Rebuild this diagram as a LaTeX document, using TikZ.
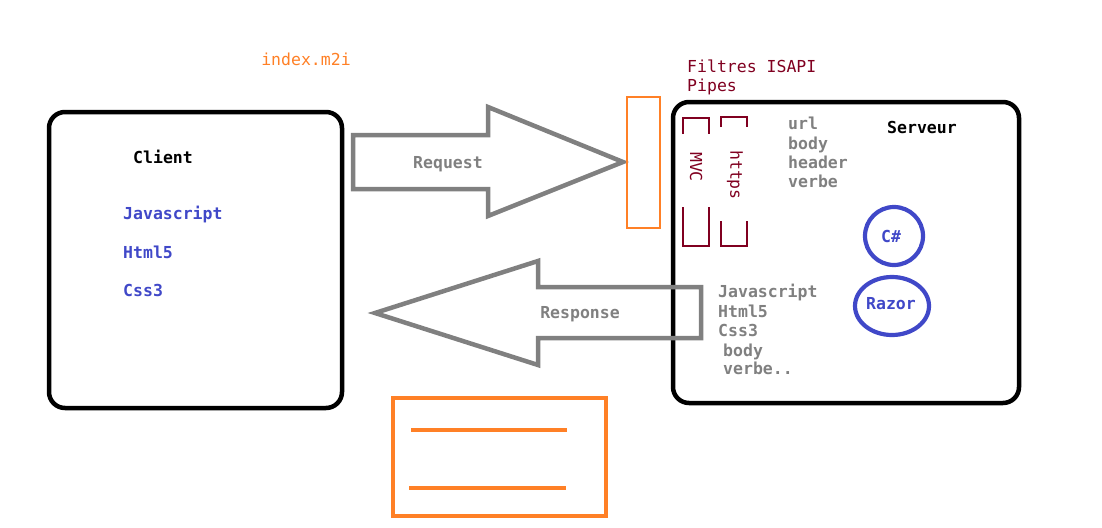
\documentclass[tikz,border=0pt]{standalone}
\usepackage{fontspec}
\setmainfont{DejaVu Sans Mono}
\definecolor{cgray}{HTML}{808080}
\definecolor{cblue}{HTML}{4048C8}
\definecolor{corange}{HTML}{FF8026}
\definecolor{cred}{HTML}{800020}
\begin{document}
\begin{tikzpicture}[x=1pt,y=-1pt,
  txt/.style={inner sep=0pt, font=\fontsize{16.5}{19}\selectfont},
  btxt/.style={txt, font=\fontsize{16.5}{19}\selectfont\bfseries},
  bigbox/.style={draw=black, line width=4.5pt, rounded corners=16pt, inner sep=0pt},
  arrowshape/.style={draw=cgray, line width=4.5pt, line join=miter},
  orangebox/.style={draw=corange, line width=3.2pt},
  thinorange/.style={draw=corange, line width=2.4pt},
  orangeline/.style={draw=corange, line width=3.2pt},
  filterline/.style={draw=cred, line width=1.6pt},
  bluering/.style={draw=cblue, line width=4.2pt, inner sep=0pt}]
\useasboundingbox (0,0) rectangle (1102,527);

% boxes
\node[bigbox, minimum width=293pt, minimum height=296pt] (client) at (195.5,260) {};
\node[bigbox, minimum width=346pt, minimum height=301pt] (server) at (846,252.5) {};

% request arrow
\draw[arrowshape] (353,135) -- (488,135) -- (488,107) -- (623,162) -- (488,216) -- (488,189) -- (353,189) -- cycle;
\node[btxt, text=cgray, anchor=base] (req) at (448,168) {Request};

% response arrow
\draw[arrowshape] (701,287) -- (538,287) -- (538,261) -- (375,313) -- (538,365) -- (538,338) -- (701,338) -- cycle;
\node[btxt, text=cgray, anchor=base] (resp) at (580,318) {Response};

% orange filter box
\node[thinorange, minimum width=33pt, minimum height=131pt, inner sep=0pt] (filter) at (643.5,162.5) {};

% bottom orange box
\node[orangebox, minimum width=213pt, minimum height=118pt, inner sep=0pt] (bottom) at (499.5,457) {};
\coordinate (l1a) at (411,430); \coordinate (l1b) at (567,430);
\coordinate (l2a) at (409,488); \coordinate (l2b) at (566,488);
\draw[orangeline] (l1a) -- (l1b);
\draw[orangeline] (l2a) -- (l2b);

% top labels
\node[txt, text=corange, anchor=base] (index) at (306,66) {index.m2i};
\node[txt, text=cred, anchor=base west] (filtres) at (687,73) {Filtres ISAPI};
\node[txt, text=cred, anchor=base west] (pipes) at (687,91) {Pipes};

% client content
\node[btxt, anchor=base] (clientlbl) at (163,163) {Client};
\node[btxt, text=cblue, anchor=base west] (cjs) at (123,219) {Javascript};
\node[btxt, text=cblue, anchor=base west] (chtml) at (123,258) {Html5};
\node[btxt, text=cblue, anchor=base west] (ccss) at (123,296) {Css3};

% server content
\node[btxt, anchor=base] (serverlbl) at (922,133) {Serveur};
\node[btxt, text=cgray, anchor=base west] (url) at (788,129) {url};
\node[btxt, text=cgray, anchor=base west] (body1) at (788,149) {body};
\node[btxt, text=cgray, anchor=base west] (header) at (788,168) {header};
\node[btxt, text=cgray, anchor=base west] (verbe1) at (788,187) {verbe};

\node[btxt, text=cgray, anchor=base west] (sjs) at (718,297) {Javascript};
\node[btxt, text=cgray, anchor=base west] (shtml) at (718,317) {Html5};
\node[btxt, text=cgray, anchor=base west] (scss) at (718,336) {Css3};
\node[btxt, text=cgray, anchor=base west] (sbody) at (723,356) {body};
\node[btxt, text=cgray, anchor=base west] (sverbe) at (723,374) {verbe..};

% MVC / https filters
\draw[filterline] (683,134) -- (683,118) -- (709,118) -- (709,134);
\draw[filterline] (683,207) -- (683,246) -- (709,246) -- (709,207);
\node[txt, text=cred, rotate=-90] (mvc) at (696,167) {MVC};
\draw[filterline] (721,127) -- (721,117) -- (747,117) -- (747,127);
\draw[filterline] (721,221) -- (721,246) -- (747,246) -- (747,221);
\node[txt, text=cred, rotate=-90] (https) at (735,175) {https};

% C# and Razor
\draw[bluering] (894,236) circle[radius=29pt];
\node[btxt, text=cblue, anchor=base] (csharp) at (891,242) {C\#};
\draw[bluering] (892,306) ellipse[x radius=37pt, y radius=29pt];
\node[btxt, text=cblue, anchor=base] (razor) at (891,309) {Razor};
\end{tikzpicture}
\end{document}
